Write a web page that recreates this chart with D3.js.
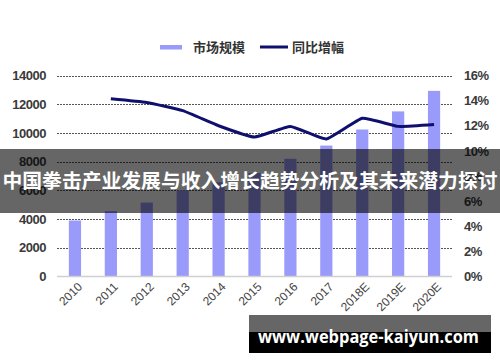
<!DOCTYPE html>
<html><head><meta charset="utf-8">
<script src="https://cdn.jsdelivr.net/npm/d3@7"></script>
<style>body{margin:0;background:#fff}svg{display:block}</style>
</head><body>
<svg id="c" width="500" height="362"></svg>
<script>
const categories = ["2010","2011","2012","2013","2014","2015","2016","2017","2018E","2019E","2020E"];
const marketSize = [3900,4550,5150,6000,6570,7200,8200,9120,10240,11500,12930];
const growth = [null,14.15,13.85,13.2,12.0,11.1,11.95,10.95,12.6,11.95,12.1];
const leftTicks = [0,2000,4000,6000,8000,10000,12000,14000];
const rightTicks = [0,2,4,6,8,10,12,14,16];
const legendLabels = ["市场规模","同比增幅"];
const bannerText = "中国拳击产业发展与收入增长趋势分析及其未来潜力探讨";
const watermark = "www.webpage-kaiyun.com";

const svg = d3.select("#c");
const L = 57, R = 452, T = 75.5, B = 276.5;
const barColor = "#9a9afa", lineColor = "#0f0f6e";
const x = d3.scaleBand().domain(categories).range([L, R]).paddingInner(0.66).paddingOuter(0.33);
const y = d3.scaleLinear().domain([0,14000]).range([B, T]);
const y2 = d3.scaleLinear().domain([0,16]).range([B, T]);

// gridlines
svg.append("g").selectAll("line").data(leftTicks.filter(d=>d>0)).join("line")
  .attr("x1", L).attr("x2", R).attr("y1", d=>Math.round(y(d))+0.5).attr("y2", d=>Math.round(y(d))+0.5)
  .attr("stroke", "#555").attr("stroke-width", 1).attr("stroke-dasharray", "2,1");

// bars
svg.append("g").selectAll("rect").data(categories).join("rect")
  .attr("x", d=>x(d)).attr("width", x.bandwidth())
  .attr("y", (d,i)=>y(marketSize[i])).attr("height", (d,i)=>B - y(marketSize[i]))
  .attr("fill", barColor);

// baseline
svg.append("line").attr("x1", L).attr("x2", R).attr("y1", B).attr("y2", B)
  .attr("stroke", "#d0d0d0").attr("stroke-width", 1.5);

// line
const lineGen = d3.line().defined(d=>d.v!=null)
  .x(d=>x(d.c)+x.bandwidth()/2).y(d=>y2(d.v)).curve(d3.curveCardinal.tension(0.6));
svg.append("path").datum(categories.map((c,i)=>({c, v: growth[i]})))
  .attr("d", lineGen).attr("fill","none").attr("stroke", lineColor).attr("stroke-width", 3)
  .attr("stroke-linejoin","round");

// axes
const yAxis = d3.axisLeft(y).tickValues(leftTicks).tickSize(0).tickPadding(0).tickFormat(d3.format("d"));
const ga = svg.append("g").attr("transform", `translate(46,0)`).call(yAxis);
ga.select(".domain").remove();
ga.selectAll("text").attr("font-family","Liberation Sans, Arial, sans-serif").attr("font-size", 13)
  .attr("font-weight","bold").attr("fill","#3a3a3a").attr("letter-spacing","-0.5");

const y2Axis = d3.axisRight(y2).tickValues(rightTicks).tickSize(0).tickPadding(0).tickFormat(d=>d+"%");
const gb = svg.append("g").attr("transform", `translate(464,0)`).call(y2Axis);
gb.select(".domain").remove();
gb.selectAll("text").attr("font-family","Liberation Sans, Arial, sans-serif").attr("font-size", 13)
  .attr("font-weight","bold").attr("fill","#3a3a3a").attr("letter-spacing","-0.5");

const xAxis = d3.axisBottom(x).tickSize(0).tickPadding(0);
const gx = svg.append("g").attr("transform", `translate(0,${B})`).call(xAxis);
gx.select(".domain").remove();
gx.selectAll("text").attr("font-family","Liberation Sans, Arial, sans-serif").attr("font-size", 12)
  .attr("fill","#444").attr("text-anchor","end")
  .attr("transform","translate(5,8) rotate(-45)").attr("dy","0.35em").attr("y",0);

// legend
const lg = svg.append("g");
lg.append("rect").attr("x",160).attr("y",45).attr("width",22).attr("height",4.5).attr("fill",barColor);
lg.append("text").attr("x",193).attr("y",52).text(legendLabels[0]);
lg.append("line").attr("x1",260).attr("x2",288).attr("y1",47).attr("y2",47).attr("stroke",lineColor).attr("stroke-width",3);
lg.append("text").attr("x",292).attr("y",52).text(legendLabels[1]);
lg.selectAll("text").attr("font-family","Noto Sans CJK SC, sans-serif").attr("font-size",13)
  .attr("font-weight","bold").attr("fill","#333");

// banner
svg.append("rect").attr("x",0).attr("y",149).attr("width",500).attr("height",64).attr("fill","rgba(0,0,0,0.6)");
svg.append("text").attr("x",250).attr("y",188).attr("text-anchor","middle")
  .attr("font-family","Noto Sans CJK SC, sans-serif").attr("font-weight","bold").attr("font-size",19.8)
  .attr("fill","#fff").attr("textLength",495).text(bannerText);

// watermark
svg.append("rect").attr("x",249).attr("y",315).attr("width",242).attr("height",38).attr("fill","#000");
svg.append("rect").attr("x",249).attr("y",315).attr("width",242).attr("height",17).attr("fill","#666");
svg.append("text").attr("x",258).attr("y",343)
  .attr("font-family","Open Sans, sans-serif").attr("font-weight","bold").attr("font-size",17)
  .attr("fill","#fff").attr("textLength",221).attr("lengthAdjust","spacingAndGlyphs").text(watermark);
</script>
</body></html>
